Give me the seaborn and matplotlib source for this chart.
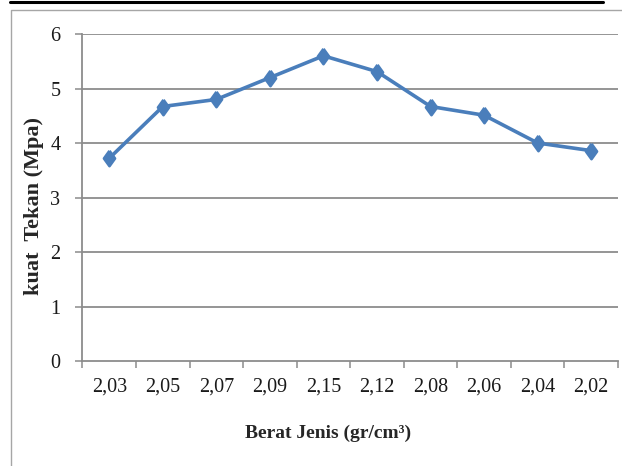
import matplotlib
matplotlib.use("Agg")
import matplotlib.pyplot as plt
from matplotlib.lines import Line2D
import seaborn as sns
import pandas as pd

# Density (gr/cm3) categories in test order and compressive strength (MPa)
berat_jenis = ["2,03", "2,05", "2,07", "2,09", "2,15", "2,12", "2,08", "2,06", "2,04", "2,02"]
kuat_tekan = [3.72, 4.67, 4.80, 5.20, 5.60, 5.31, 4.67, 4.51, 4.00, 3.86]
y_ticks = [0, 1, 2, 3, 4, 5, 6]

df = pd.DataFrame({"berat_jenis": berat_jenis, "kuat_tekan": kuat_tekan})

sns.set_theme(style="white")
plt.rcParams["font.family"] = ["Liberation Serif", "DejaVu Serif"]

LINE = "#4A7EBB"
GRID = "#8C8C8C"

fig = plt.figure(figsize=(6.22, 4.66), dpi=100)
fig.patch.set_facecolor("white")
ax = fig.add_axes([0.1326, 0.2253, 0.8610, 0.7017])

diamond = [(0, 1), (0.72, 0), (0, -1), (-0.72, 0), (0, 1)]
sns.pointplot(data=df, x="berat_jenis", y="kuat_tekan", order=berat_jenis,
              color=LINE, marker=diamond, markersize=11, linewidth=2.6,
              markeredgecolor=LINE, errorbar=None, ax=ax)

ax.set_ylim(0, 6)
ax.set_yticks(y_ticks)
ax.set_yticklabels([str(v) for v in y_ticks])
ax.set_xlim(-0.5, len(berat_jenis) - 0.5)
for v in y_ticks[1:]:
    ax.axhline(v, color=GRID, lw=1.3, zorder=0)

for side in ("top", "right"):
    ax.spines[side].set_visible(False)
for side in ("left", "bottom"):
    ax.spines[side].set_color(GRID)
    ax.spines[side].set_linewidth(1.3)

# category boundary ticks on the x axis
ax.set_xticks([i - 0.5 for i in range(len(berat_jenis) + 1)], minor=True)
ax.tick_params(axis="x", which="minor", length=5, width=1.1, color=GRID, direction="out", bottom=True)
ax.tick_params(axis="x", which="major", length=0, pad=12, labelsize=14.5, labelcolor="#1a1a1a")
ax.tick_params(axis="y", length=5, width=1.1, color=GRID, direction="out", left=True,
               pad=11, labelsize=14.5, labelcolor="#1a1a1a")

ax.set_xlabel("Berat Jenis (gr/cm³)", fontsize=14, fontweight="bold", va="center", ha="center")
ax.xaxis.set_label_coords(0.458, -0.22)
ax.set_ylabel("kuat  Tekan (Mpa)", fontsize=16, fontweight="bold", va="center", ha="center")
ax.yaxis.set_label_coords(-0.09, 0.474)

# outer page rules
fig.add_artist(Line2D([10 / 622, 603 / 622], [1 - 1.5 / 466, 1 - 1.5 / 466],
                      transform=fig.transFigure, color="black", lw=2.2))
fig.add_artist(Line2D([11 / 622, 11 / 622, 1.0], [0, 1 - 9.5 / 466, 1 - 9.5 / 466],
                      transform=fig.transFigure, color="#A6A6A6", lw=1.0))

fig.savefig("out.png", dpi=100, facecolor="white")
